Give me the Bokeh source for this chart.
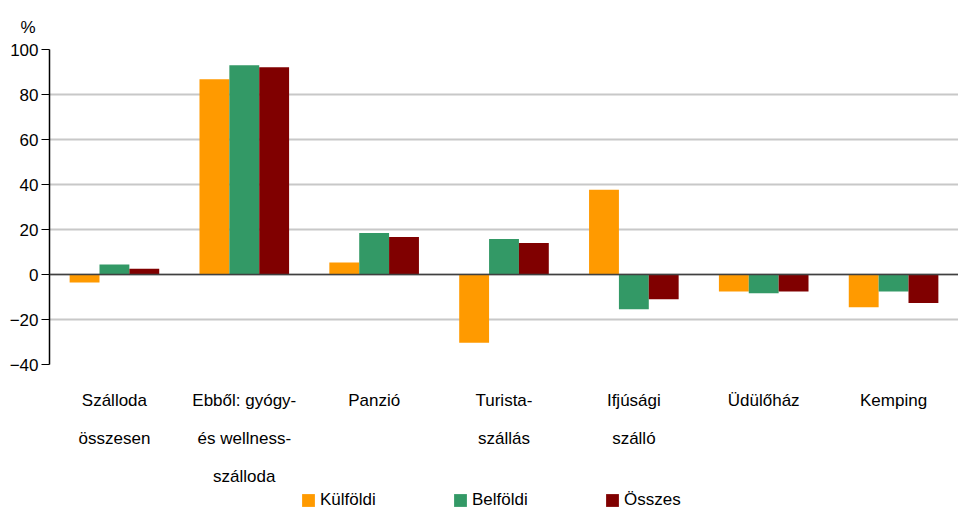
from bokeh.plotting import figure
from bokeh.layouts import column
from bokeh.models import (Range1d, FixedTicker, Legend, LegendItem, Span,
                          ColumnDataSource, LinearAxis)
from bokeh.transform import dodge
from bokeh.embed import file_html
from bokeh.resources import INLINE

categories = ["Szálloda összesen", "Ebből: gyógy- és wellness-szálloda", "Panzió",
              "Turista-szállás", "Ifjúsági szálló", "Üdülőház", "Kemping"]
label_lines = [["Szálloda", "összesen"],
               ["Ebből: gyógy-", "és wellness-", "szálloda"],
               ["Panzió"],
               ["Turista-", "szállás"],
               ["Ifjúsági", "szálló"],
               ["Üdülőház"],
               ["Kemping"]]
kulfoldi = [-3.5, 86.8, 5.3, -30.3, 37.7, -7.5, -14.5]
belfoldi = [4.4, 93.0, 18.4, 15.8, -15.4, -8.3, -7.5]
osszes = [2.6, 92.1, 16.7, 14.0, -11.0, -7.5, -12.7]
series_names = ["Külföldi", "Belföldi", "Összes"]
series_colors = ["#ff9a00", "#339966", "#800000"]
y_ticks = [-40, -20, 0, 20, 40, 60, 80, 100]

FONT = "Liberation Sans"

idx = list(range(len(categories)))
src = ColumnDataSource(dict(x=idx, cat=categories, k=kulfoldi, b=belfoldi, o=osszes))
cols = ["k", "b", "o"]

p = figure(x_range=Range1d(-0.5, len(categories) - 0.5), y_range=Range1d(-40, 100),
           width=958, height=491, output_backend="svg", toolbar_location=None,
           min_border_left=49, min_border_right=0, min_border_top=49, min_border_bottom=127,
           x_axis_location=None)

w = 0.23
offsets = [-w, 0, w]
for col, off, color in zip(cols, offsets, series_colors):
    p.vbar(x=dodge("x", off), top=col, bottom=0, width=w, source=src,
           fill_color=color, line_color=None)

p.add_layout(Span(location=0, dimension="width", line_color="#404040", line_width=1.5))

p.outline_line_color = None
p.xgrid.grid_line_color = None
p.ygrid.grid_line_color = "#c8c8c8"
p.ygrid.grid_line_width = 2

p.yaxis.ticker = FixedTicker(ticks=y_ticks)
p.yaxis.axis_line_color = "black"
p.yaxis.axis_line_width = 1.5
p.yaxis.major_tick_out = 8
p.yaxis.major_tick_in = 0
p.yaxis.major_tick_line_color = "black"
p.yaxis.minor_tick_line_color = None
p.yaxis.major_label_text_font = FONT
p.yaxis.major_label_text_font_size = "17px"
p.yaxis.major_label_text_color = "black"
p.yaxis.major_label_standoff = 3

# category labels: one axis per text line
standoffs = [26, 16, 16]
for i in range(3):
    overrides = {c: (lines[i] if i < len(lines) else "") for c, lines in zip(idx, label_lines)}
    ax = LinearAxis(ticker=FixedTicker(ticks=idx),
                    major_label_overrides=overrides,
                    axis_line_color=None, major_tick_line_color=None,
                    minor_tick_line_color=None, major_tick_out=0, major_tick_in=0,
                    major_label_text_font=FONT, major_label_text_font_size="17px",
                    major_label_text_color="black", major_label_standoff=standoffs[i])
    p.add_layout(ax, "below")

p.title.text = "%"
p.title.align = "left"
p.title.offset = -29
p.title.standoff = 25
p.title.text_font = FONT
p.title.text_font_size = "17px"
p.title.text_font_style = "normal"
p.title.text_color = "black"

# legend strip below the chart (its bars lie outside its visible y range)
lg = figure(x_range=p.x_range, y_range=Range1d(1000, 1001),
            width=958, height=20, output_backend="svg", toolbar_location=None,
            min_border_left=0, min_border_right=0, min_border_top=0, min_border_bottom=0,
            x_axis_location=None, y_axis_location=None)
lg.outline_line_color = None
lg.xgrid.grid_line_color = None
lg.ygrid.grid_line_color = None
items = []
for col, off, color, name in zip(cols, offsets, series_colors, series_names):
    r = lg.vbar(x=dodge("x", off), top=col, bottom=0, width=w, source=src,
                fill_color=color, line_color=None)
    items.append(LegendItem(label=name, renderers=[r]))

legend = Legend(items=items, orientation="horizontal", location=(251, 1),
                border_line_alpha=0, background_fill_alpha=0,
                glyph_width=16, glyph_height=16, label_standoff=4,
                label_width=110, spacing=22, padding=0, margin=0,
                label_text_font=FONT, label_text_font_size="17px",
                label_text_color="black")
lg.add_layout(legend)

layout = column(p, lg, spacing=0)
open("out.html", "w").write(file_html(layout, INLINE))
